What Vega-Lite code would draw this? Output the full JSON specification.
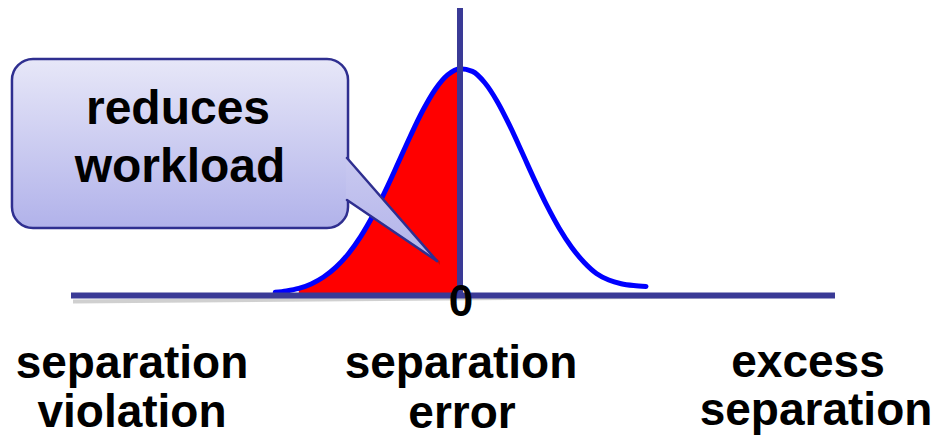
{
  "$schema": "https://vega.github.io/schema/vega-lite/v6.json",
  "width": 951,
  "height": 442,
  "autosize": {"type": "fit", "contains": "padding"},
  "padding": 0,
  "background": "#ffffff",
  "config": {"view": {"stroke": null}},
  "datasets": {
    "curve": [
      {"x": -2.98, "y": 0.014},
      {"x": -2.8, "y": 0.02},
      {"x": -2.6, "y": 0.031},
      {"x": -2.4, "y": 0.0509},
      {"x": -2.2, "y": 0.0813},
      {"x": -2.0, "y": 0.1248},
      {"x": -1.8, "y": 0.184},
      {"x": -1.6, "y": 0.2606},
      {"x": -1.4, "y": 0.3546},
      {"x": -1.2, "y": 0.4636},
      {"x": -1.0, "y": 0.5823},
      {"x": -0.8, "y": 0.7027},
      {"x": -0.6, "y": 0.8148},
      {"x": -0.4, "y": 0.9077},
      {"x": -0.2, "y": 0.9716},
      {"x": 0.0, "y": 0.9992},
      {"x": 0.2, "y": 0.9873},
      {"x": 0.4, "y": 0.9373},
      {"x": 0.6, "y": 0.8549},
      {"x": 0.8, "y": 0.7492},
      {"x": 1.0, "y": 0.6308},
      {"x": 1.2, "y": 0.5103},
      {"x": 1.4, "y": 0.3966},
      {"x": 1.6, "y": 0.2962},
      {"x": 1.8, "y": 0.2125},
      {"x": 2.0, "y": 0.1465},
      {"x": 2.2, "y": 0.097},
      {"x": 2.4, "y": 0.068},
      {"x": 2.6, "y": 0.052},
      {"x": 2.8, "y": 0.044},
      {"x": 3.0, "y": 0.04}
    ],
    "segments": [
      {"role": "axis", "x": -6.274, "x2": 6.048, "y": 0, "y2": 0},
      {"role": "axis", "x": 0, "x2": 0, "y": 0, "y2": 1.2665},
      {"role": "edge", "x": -1.8226, "x2": -0.371, "y": 0.6057, "y2": 0.152},
      {"role": "edge", "x": -1.8226, "x2": -0.371, "y": 0.4207, "y2": 0.152}
    ],
    "bubble": [
      {"x": -7.226, "x2": -1.806, "y": 1.0419, "y2": 0.2974}
    ],
    "pointer": [
      {"x": -1.84, "y": 0.611, "y2": 0.4238},
      {"x": -0.371, "y": 0.152, "y2": 0.152}
    ],
    "bubbleText": [
      {"label": "reduces", "x": -4.548, "y": 0.7555},
      {"label": "workload", "x": -4.516, "y": 0.5}
    ],
    "zeroText": [
      {"label": "0", "x": 0.016, "y": -0.0903}
    ],
    "axisText": [
      {"label": "separation", "x": -5.29, "y": -0.3634},
      {"label": "violation", "x": -5.29, "y": -0.5793},
      {"label": "separation", "x": 0.016, "y": -0.3634},
      {"label": "error", "x": 0.032, "y": -0.5837},
      {"label": "excess", "x": 5.613, "y": -0.359},
      {"label": "separation", "x": 5.742, "y": -0.5705}
    ]
  },
  "encoding": {
    "x": {"field": "x", "type": "quantitative", "scale": {"domain": [-7.419, 7.919], "nice": false, "zero": false}, "axis": null},
    "y": {"field": "y", "type": "quantitative", "scale": {"domain": [-0.6454, 1.3018], "nice": false, "zero": false}, "axis": null}
  },
  "layer": [
    {
      "data": {"name": "segments"},
      "transform": [{"filter": "datum.role == 'axis' && datum.y2 == 0"}],
      "mark": {"type": "rule", "color": "#c4c4c4", "strokeWidth": 4, "yOffset": 6, "xOffset": 2, "opacity": 0.8},
      "encoding": {"x2": {"field": "x2"}, "y2": {"field": "y2"}}
    },
    {
      "data": {"name": "curve"},
      "transform": [{"filter": "datum.x >= -2.6 && datum.x <= 0"}],
      "mark": {"type": "area", "color": "#ff0000", "interpolate": "monotone"},
      "encoding": {"y2": {"datum": 0}}
    },
    {
      "data": {"name": "curve"},
      "mark": {"type": "line", "color": "#0000ff", "strokeWidth": 5, "interpolate": "monotone", "strokeCap": "round"},
      "encoding": {}
    },
    {
      "data": {"name": "segments"},
      "transform": [{"filter": "datum.role == 'axis'"}],
      "mark": {"type": "rule", "color": "#3a3a96", "strokeWidth": 6},
      "encoding": {"x2": {"field": "x2"}, "y2": {"field": "y2"}}
    },
    {
      "data": {"name": "bubble"},
      "mark": {"type": "rect", "color": "#000000", "opacity": 0.15, "cornerRadius": 21, "xOffset": 3, "yOffset": 4},
      "encoding": {"x2": {"field": "x2"}, "y2": {"field": "y2"}}
    },
    {
      "data": {"name": "pointer"},
      "mark": {"type": "area", "color": "#000000", "opacity": 0.15, "interpolate": "linear", "xOffset": 3, "yOffset": 4},
      "encoding": {"y2": {"field": "y2"}}
    },
    {
      "data": {"name": "bubble"},
      "mark": {
        "type": "rect",
        "cornerRadius": 21,
        "fill": {"gradient": "linear", "x1": 0, "y1": 0, "x2": 0, "y2": 1, "stops": [{"offset": 0, "color": "#e7e7f8"}, {"offset": 1, "color": "#b1b2ea"}]},
        "fillOpacity": 1,
        "stroke": "#2f2f90",
        "strokeWidth": 2.5
      },
      "encoding": {"x2": {"field": "x2"}, "y2": {"field": "y2"}}
    },
    {
      "data": {"name": "pointer"},
      "mark": {
        "type": "area",
        "interpolate": "linear",
        "fill": {"gradient": "linear", "x1": 0, "y1": 0, "x2": 0, "y2": 1, "stops": [{"offset": 0, "color": "#c9c9f0"}, {"offset": 1, "color": "#b2b3ea"}]},
        "fillOpacity": 1
      },
      "encoding": {"y2": {"field": "y2"}}
    },
    {
      "data": {"name": "segments"},
      "transform": [{"filter": "datum.role == 'edge'"}],
      "mark": {"type": "rule", "color": "#2f2f90", "strokeWidth": 2.5, "strokeCap": "round"},
      "encoding": {"x2": {"field": "x2"}, "y2": {"field": "y2"}}
    },
    {
      "data": {"name": "bubbleText"},
      "mark": {"type": "text", "font": "Liberation Sans", "fontWeight": "bold", "fontSize": 48, "align": "center", "baseline": "alphabetic", "color": "#000000"},
      "encoding": {"text": {"field": "label"}}
    },
    {
      "data": {"name": "zeroText"},
      "mark": {"type": "text", "font": "Liberation Sans", "fontWeight": "bold", "fontSize": 44, "align": "center", "baseline": "alphabetic", "color": "#000000"},
      "encoding": {"text": {"field": "label"}}
    },
    {
      "data": {"name": "axisText"},
      "mark": {"type": "text", "font": "Liberation Sans", "fontWeight": "bold", "fontSize": 46, "align": "center", "baseline": "alphabetic", "color": "#000000"},
      "encoding": {"text": {"field": "label"}}
    }
  ]
}
